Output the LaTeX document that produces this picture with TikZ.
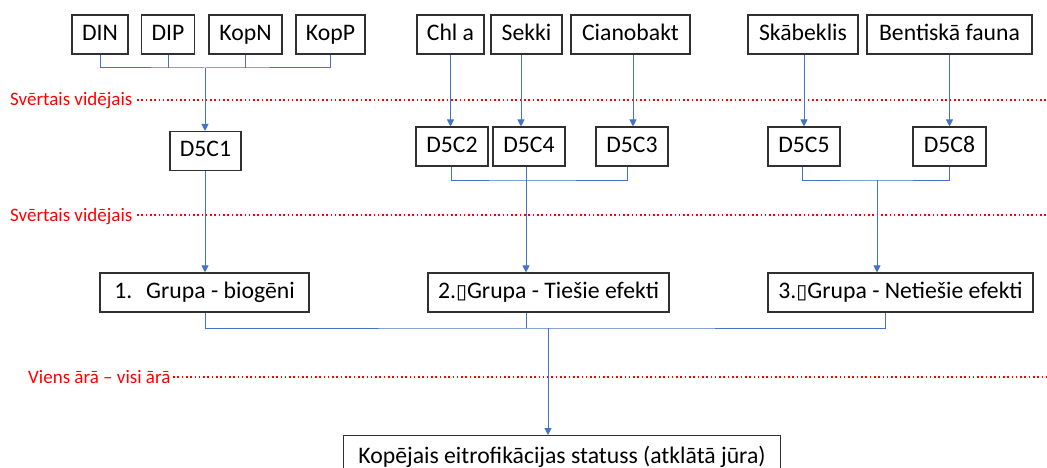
\documentclass[tikz,border=0pt]{standalone}
\usepackage{fontspec}
\setmainfont{Carlito}
\newfontfamily\djv{DejaVu Sans}
\usetikzlibrary{arrows.meta}
\definecolor{conncol}{HTML}{4472C4}
\definecolor{boxcol}{HTML}{303030}
\begin{document}
\begin{tikzpicture}[x=1pt,y=-1pt,
  box/.style={draw=boxcol,line width=1.1pt,inner sep=0pt,fill=white,
    font=\fontsize{23.7}{27}\selectfont,text height=16pt,text depth=4pt},
  conn/.style={draw=conncol,line width=1pt},
  arr/.style={conn,-{Triangle[length=7pt,width=7pt]}},
  redlabel/.style={text=red,font=\fontsize{19}{22}\selectfont,inner sep=0pt,anchor=base west},
  reddots/.style={draw=red,line width=2pt,dash pattern=on 1.6pt off 2.7pt}
]
\useasboundingbox (0,0) rectangle (1047,468);

% red dotted levels
\node[redlabel] (l1) at (10,106) {Svērtais vidējais};
\coordinate (l1e) at (1047,100);
\draw[reddots] (137,100) -- (l1e);
\node[redlabel] (l2) at (10,221) {Svērtais vidējais};
\coordinate (l2e) at (1047,215);
\draw[reddots] (137,215) -- (l2e);
\node[redlabel] (l3) at (28,383) {Viens ārā – visi ārā};
\coordinate (l3e) at (1047,377);
\draw[reddots] (173,377) -- (l3e);

% top boxes
\node[box,minimum width=56pt,minimum height=39pt] (din) at (100,34.5) {DIN};
\node[box,minimum width=53pt,minimum height=39pt] (dip) at (168,34.5) {DIP};
\node[box,minimum width=73pt,minimum height=39pt] (kopn) at (245.5,34.5) {KopN};
\node[box,minimum width=69pt,minimum height=39pt] (kopp) at (330.5,34.5) {KopP};
\node[box,minimum width=67pt,minimum height=39pt] (chl) at (450.5,34.5) {Chl a};
\node[box,minimum width=71pt,minimum height=39pt] (sekki) at (526.5,34.5) {Sekki};
\node[box,minimum width=119pt,minimum height=39pt] (ciano) at (630.5,34.5) {Cianobakt};
\node[box,minimum width=110pt,minimum height=39pt] (skab) at (803,34.5) {Skābeklis};
\node[box,minimum width=165pt,minimum height=39pt] (bent) at (949.5,34.5) {Bentiskā fauna};

% indicator boxes
\node[box,minimum width=71pt,minimum height=39pt] (d1) at (205.5,151) {D5C1};
\node[box,minimum width=72pt,minimum height=39pt] (d2) at (452,146.5) {D5C2};
\node[box,minimum width=72pt,minimum height=39pt] (d4) at (529,146.5) {D5C4};
\node[box,minimum width=72pt,minimum height=39pt] (d3) at (632,146.5) {D5C3};
\node[box,minimum width=72pt,minimum height=39pt] (d5) at (804,146.5) {D5C5};
\node[box,minimum width=73pt,minimum height=39pt] (d8) at (949.5,146.5) {D5C8};

% group boxes
\node[box,minimum width=209pt,minimum height=39pt] (g1) at (204.5,292.5) {1.\hspace{14pt}Grupa - biogēni};
\node[box,minimum width=241pt,minimum height=39pt] (g2) at (548.5,292.5) {2.{\djv\fontsize{20}{20}\selectfont ▯}Grupa - Tiešie efekti};
\node[box,minimum width=265pt,minimum height=39pt] (g3) at (900.5,292.5) {3.{\djv\fontsize{20}{20}\selectfont ▯}Grupa - Netiešie efekti};

% final box
\node[box,minimum width=437pt,minimum height=44pt,anchor=north west] (fin) at (343,435) {Kopējais eitrofikācijas statuss (atklātā jūra)};

% connectors: group 1 inputs
\coordinate (j1) at (205,68);
\draw[conn] (din.south) |- (j1) -| (kopp.south);
\draw[conn] (dip.south) -- (dip.south |- j1);
\draw[conn] (kopn.south) -- (kopn.south |- j1);
\draw[arr] (j1) -- (j1 |- d1.north);
\draw[arr] (d1.south -| j1) -- (j1 |- g1.north);

% group 2 inputs
\draw[arr] (chl.south) -- (chl.south |- d2.north);
\draw[arr] (sekki.south -| 521,0) -- (521,0 |- d4.north);
\draw[arr] (ciano.south -| 633,0) -- (633,0 |- d3.north);
\coordinate (j2) at (526,180);
\draw[conn] (d2.south -| 451,0) |- (j2) -| (d3.south -| 627,0);
\draw[conn] (d4.south -| j2) -- (j2);
\draw[arr] (j2) -- (j2 |- g2.north);

% group 3 inputs
\draw[arr] (skab.south -| d5.south) -- (d5.north);
\draw[arr] (bent.south) -- (bent.south |- d8.north);
\coordinate (j3) at (877,180);
\draw[conn] (d5.south -| 802,0) |- (j3) -| (d8.south);
\draw[arr] (j3) -- (j3 |- g3.north);

% groups to final
\coordinate (j4) at (548,328);
\draw[conn] (g1.south -| 205,0) |- (j4) -| (g3.south -| 885,0);
\draw[conn] (g2.south -| 526,0) -- (526,0 |- j4);
\draw[arr] (j4) -- (j4 |- fin.north);
\end{tikzpicture}
\end{document}
